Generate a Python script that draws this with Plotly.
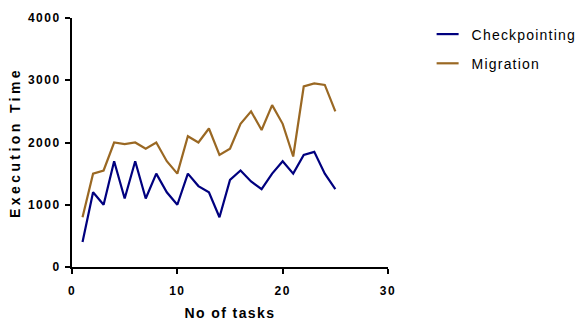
import plotly.graph_objects as go

tasks = list(range(1, 26))
checkpointing = [400, 1200, 1000, 1700, 1100, 1700, 1100, 1500, 1200, 1000,
                 1500, 1300, 1200, 800, 1400, 1550, 1375, 1250, 1500, 1700,
                 1500, 1800, 1850, 1500, 1250]
migration = [800, 1500, 1550, 2000, 1975, 2000, 1900, 2000, 1700, 1500,
             2100, 2000, 2225, 1800, 1900, 2300, 2500, 2200, 2600, 2300,
             1775, 2900, 2950, 2925, 2500]

x_ticks = [0, 10, 20, 30]
y_ticks = [0, 1000, 2000, 3000, 4000]

fig = go.Figure()
fig.add_trace(go.Scatter(x=tasks, y=checkpointing, mode="lines", name="Checkpointing",
                         legendgroup="a", line=dict(color="#00007f", width=2.2)))
fig.add_trace(go.Scatter(x=tasks, y=migration, mode="lines", name="Migration",
                         legendgroup="b", line=dict(color="#9a6823", width=2.2)))

axis_common = dict(showgrid=False, zeroline=False, showline=True, linecolor="black",
                   linewidth=2, ticks="outside", ticklen=5, tickwidth=2, tickcolor="black",
                   automargin=False,
                   tickfont=dict(family="Liberation Sans", size=12, color="black", weight="bold"))

title_font = dict(family="Liberation Sans", size=14, color="black", weight="bold")

fig.update_xaxes(range=[0, 30], tickvals=x_ticks, ticklabelstandoff=7, **axis_common,
                 title=dict(text="No of tasks", font=title_font))
fig.update_yaxes(range=[0, 4000], tickvals=y_ticks, ticklabelstandoff=2, **axis_common,
                 title=dict(text="Execution Time", standoff=10, font=title_font))

fig.update_layout(
    width=580, height=322,
    margin=dict(l=72, r=192, t=18, b=55),
    plot_bgcolor="white", paper_bgcolor="white",
    showlegend=True,
    legend=dict(x=1.138, y=0.998, xanchor="left", yanchor="top",
                font=dict(family="Liberation Sans", size=14, color="black"),
                tracegroupgap=8, bgcolor="rgba(0,0,0,0)"),
)

fig.write_html("out.html", post_script="""
var s = document.createElement('style');
s.textContent = '.xtitle {letter-spacing: 1.4px; transform: translateY(-1px);} .ytitle {letter-spacing: 3.4px;}'
  + ' .legendtext {letter-spacing: 1.2px;} .xtick text, .ytick text {letter-spacing: 1.5px;}'
  + ' .legend .scrollbox {clip-path: none !important;}';
document.head.appendChild(s);
document.querySelectorAll('.legendlines path').forEach(function (p) {
  p.setAttribute('d', 'M5,0h22');
});
""")
